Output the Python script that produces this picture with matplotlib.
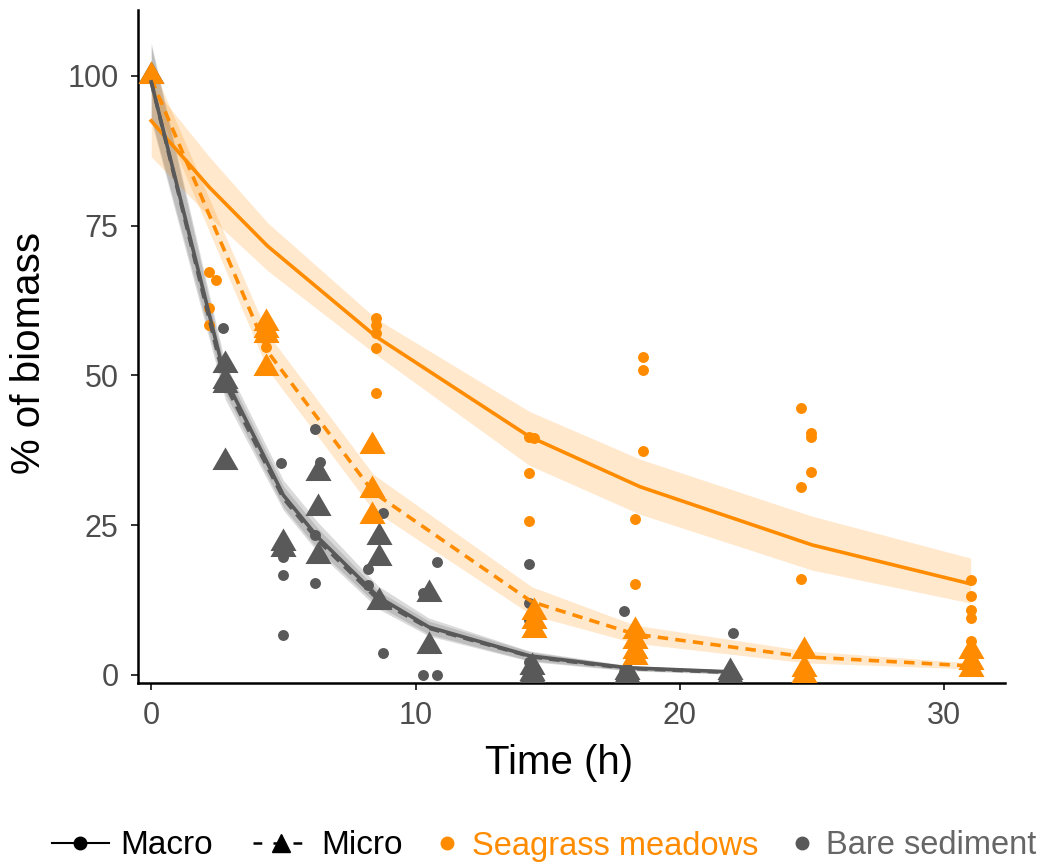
import matplotlib.pyplot as plt
from matplotlib.lines import Line2D

plt.rcParams['font.family'] = ['Liberation Sans', 'DejaVu Sans']

orange = '#FF8C00'
grey = '#595959'

# observed points (time h, % of biomass)
sea_macro_t = [0, 2.2, 2.45, 2.2, 2.2, 4.35, 8.5, 8.5, 8.5, 8.5, 8.5,
               14.3, 14.5, 14.3, 14.3, 18.6, 18.6, 18.6, 18.3, 18.3,
               24.6, 24.6, 24.6, 24.95, 24.95, 24.95, 31, 31, 31, 31, 31, 31]
sea_macro_y = [100, 67.3, 66, 61.3, 58.4, 54.8, 59.5, 58.4, 57, 54.6, 47,
               39.7, 39.5, 33.7, 25.7, 53, 50.9, 37.4, 26, 15.2,
               44.6, 31.4, 16, 40.4, 39.8, 33.8, 15.8, 13.1, 10.9, 9.5, 5.7, 3]

bare_macro_t = [0, 2.7, 4.9, 5.0, 5.0, 5.0, 6.2, 6.4, 6.2, 6.2,
                8.75, 8.2, 8.2, 8.6, 8.75, 10.3, 10.3, 10.8, 10.8,
                14.3, 14.3, 14.3, 14.3, 14.3, 17.9, 17.9, 17.9, 22, 22]
bare_macro_y = [100, 57.9, 35.4, 19.7, 16.7, 6.7, 41, 35.6, 23.4, 15.4,
                27, 17.6, 15, 12.2, 3.7, 13.7, 0, 18.9, 0,
                18.5, 12, 9.2, 2.2, 0, 10.6, 0.5, 0, 7, 0]

sea_micro_t = [0, 4.35, 4.35, 4.35, 4.35, 8.35, 8.35, 8.35,
               14.5, 14.5, 14.5, 18.3, 18.3, 18.3, 18.3,
               24.7, 24.7, 24.7, 31, 31, 31]
sea_micro_y = [100, 58.8, 57.6, 56.8, 51.3, 38.2, 30.9, 26.5,
               10.5, 9, 7.5, 7.3, 5.6, 4, 3,
               4, 1, 0, 4, 2.2, 1]

bare_micro_t = [0, 2.8, 2.8, 2.8, 2.8, 5.0, 5.0, 6.3, 6.3, 6.3,
                8.6, 8.6, 8.6, 10.5, 10.5, 14.4, 14.4, 14.4, 18, 18, 21.9, 21.9]
bare_micro_y = [100, 51.7, 49, 48.4, 35.6, 22, 21, 33.7, 27.9, 19.8,
                23.1, 19.6, 12.2, 13.5, 4.8, 1.4, 0.3, 0, 0.5, 0, 0.5, 0]

# fitted curves with confidence ribbons
sea_macro_fit_t = [0, 2.2, 4.4, 8.5, 14.3, 18.5, 25, 31]
sea_macro_fit = [92.5, 81.4, 71.6, 56.5, 39.8, 31.4, 21.7, 15.2]
sea_macro_lo = [86.5, 76.5, 67.5, 53.5, 35, 26.8, 17.5, 12]
sea_macro_hi = [98.5, 86.5, 75.5, 59.5, 44, 36, 26.5, 19.5]

sea_micro_fit_t = [0, 4.4, 8.4, 14.4, 18.3, 24.8, 31]
sea_micro_fit = [99.5, 54, 30.5, 12.2, 6.8, 3, 1.5]
sea_micro_lo = [97, 51, 27.5, 10, 5.3, 2, 1]
sea_micro_hi = [102, 57, 33.5, 14.7, 8.3, 4, 2]

bare_macro_fit_t = [0, 2.8, 5, 6.3, 8.6, 10.5, 14.3, 18, 22]
bare_macro_fit = [99, 49.5, 30, 23, 13, 8, 3.2, 1.2, 0.5]
bare_macro_lo = [93, 47, 28, 21, 11.5, 6.8, 2.4, 0.8, 0.2]
bare_macro_hi = [105.5, 52, 32.5, 25.5, 14.8, 9.5, 4, 1.6, 0.8]

bare_micro_fit_t = [0, 2.8, 5, 6.3, 8.6, 10.5, 14.4, 18, 22]
bare_micro_fit = [99, 48.5, 29.5, 22.5, 12.5, 7.8, 3, 1.1, 0.4]
bare_micro_lo = [92.5, 46, 27.5, 20.5, 11, 6.5, 2.2, 0.7, 0.1]
bare_micro_hi = [105, 51, 31.5, 24.5, 14, 9, 3.8, 1.5, 0.7]

tri = [(0, 1), (-0.866, -0.5), (0.866, -0.5)]

fig = plt.figure(figsize=(10.6, 8.68), dpi=100)
ax = fig.add_axes([138/1060, 1-683/868, (1005-138)/1060, (683-10)/868])

# ribbons
ax.fill_between(bare_macro_fit_t, bare_macro_lo, bare_macro_hi, color=grey, alpha=0.22, lw=0)
ax.fill_between(bare_micro_fit_t, bare_micro_lo, bare_micro_hi, color=grey, alpha=0.22, lw=0)
ax.fill_between(sea_macro_fit_t, sea_macro_lo, sea_macro_hi, color=orange, alpha=0.2, lw=0)
ax.fill_between(sea_micro_fit_t, sea_micro_lo, sea_micro_hi, color=orange, alpha=0.2, lw=0)

# points
ax.scatter(bare_macro_t, bare_macro_y, s=62, color=grey, lw=0, zorder=3)
ax.scatter(bare_micro_t, bare_micro_y, s=470, marker=tri, color=grey, lw=0, zorder=3)
ax.scatter(sea_macro_t, sea_macro_y, s=62, color=orange, lw=0, zorder=3)
ax.scatter(sea_micro_t, sea_micro_y, s=470, marker=tri, color=orange, lw=0, zorder=3)

# fitted lines
dash = (0, (2.9, 2.0))
ax.plot(sea_macro_fit_t, sea_macro_fit, color=orange, lw=2.6, zorder=4)
ax.plot(sea_micro_fit_t, sea_micro_fit, color=orange, lw=2.6, ls=dash, zorder=4)
ax.plot(bare_macro_fit_t, bare_macro_fit, color=grey, lw=2.6, zorder=4)
ax.plot(bare_micro_fit_t, bare_micro_fit, color=grey, lw=2.6, ls=dash, zorder=4)

ax.set_xlim(-0.5, 32.3)
ax.set_ylim(-1.35, 111)
ax.set_xticks([0, 10, 20, 30])
ax.set_yticks([0, 25, 50, 75, 100])
ax.tick_params(length=5, width=1.4, color='#333333', labelcolor='#4D4D4D',
               labelsize=22)
ax.tick_params(axis='y', pad=9)
ax.tick_params(axis='x', pad=8)
for side in ['top', 'right']:
    ax.spines[side].set_visible(False)
for side in ['left', 'bottom']:
    ax.spines[side].set_linewidth(1.8)
    ax.spines[side].set_color('black')

ax.set_xlabel('Time (h)', fontsize=29)
ax.set_ylabel('% of biomass', fontsize=29)
ax.xaxis.set_label_coords(0.486, -0.09)
ax.yaxis.set_label_coords(-0.104, 0.49)

# two legends: linetype and colour
h1 = [
    Line2D([], [], color='black', lw=1.5, marker='o', ms=9),
    Line2D([], [], color='black', lw=1.8, ls=(0, (3.5, 4.5)), marker='^', ms=13),
]
leg1 = fig.legend(h1, ['Macro', 'Micro'], loc='center left',
                  bbox_to_anchor=(52/1060, 1-846/868), ncol=2, frameon=False,
                  fontsize=24, handlelength=1.7, handletextpad=0.35,
                  columnspacing=1.2, borderaxespad=0, borderpad=0)

h2 = [
    Line2D([], [], ls='none', marker='o', color=orange, ms=9),
    Line2D([], [], ls='none', marker='o', color=grey, ms=9),
]
leg2 = fig.legend(h2, ['Seagrass meadows', 'Bare sediment'], loc='center left',
                  bbox_to_anchor=(434/1060, 1-846/868), ncol=2, frameon=False,
                  fontsize=23.5, handlelength=0.8, handletextpad=0.35,
                  columnspacing=0.95, borderaxespad=0, borderpad=0)
for txt, c in zip(leg2.get_texts(), [orange, '#666666']):
    txt.set_color(c)

fig.savefig('out.png', dpi=100)
